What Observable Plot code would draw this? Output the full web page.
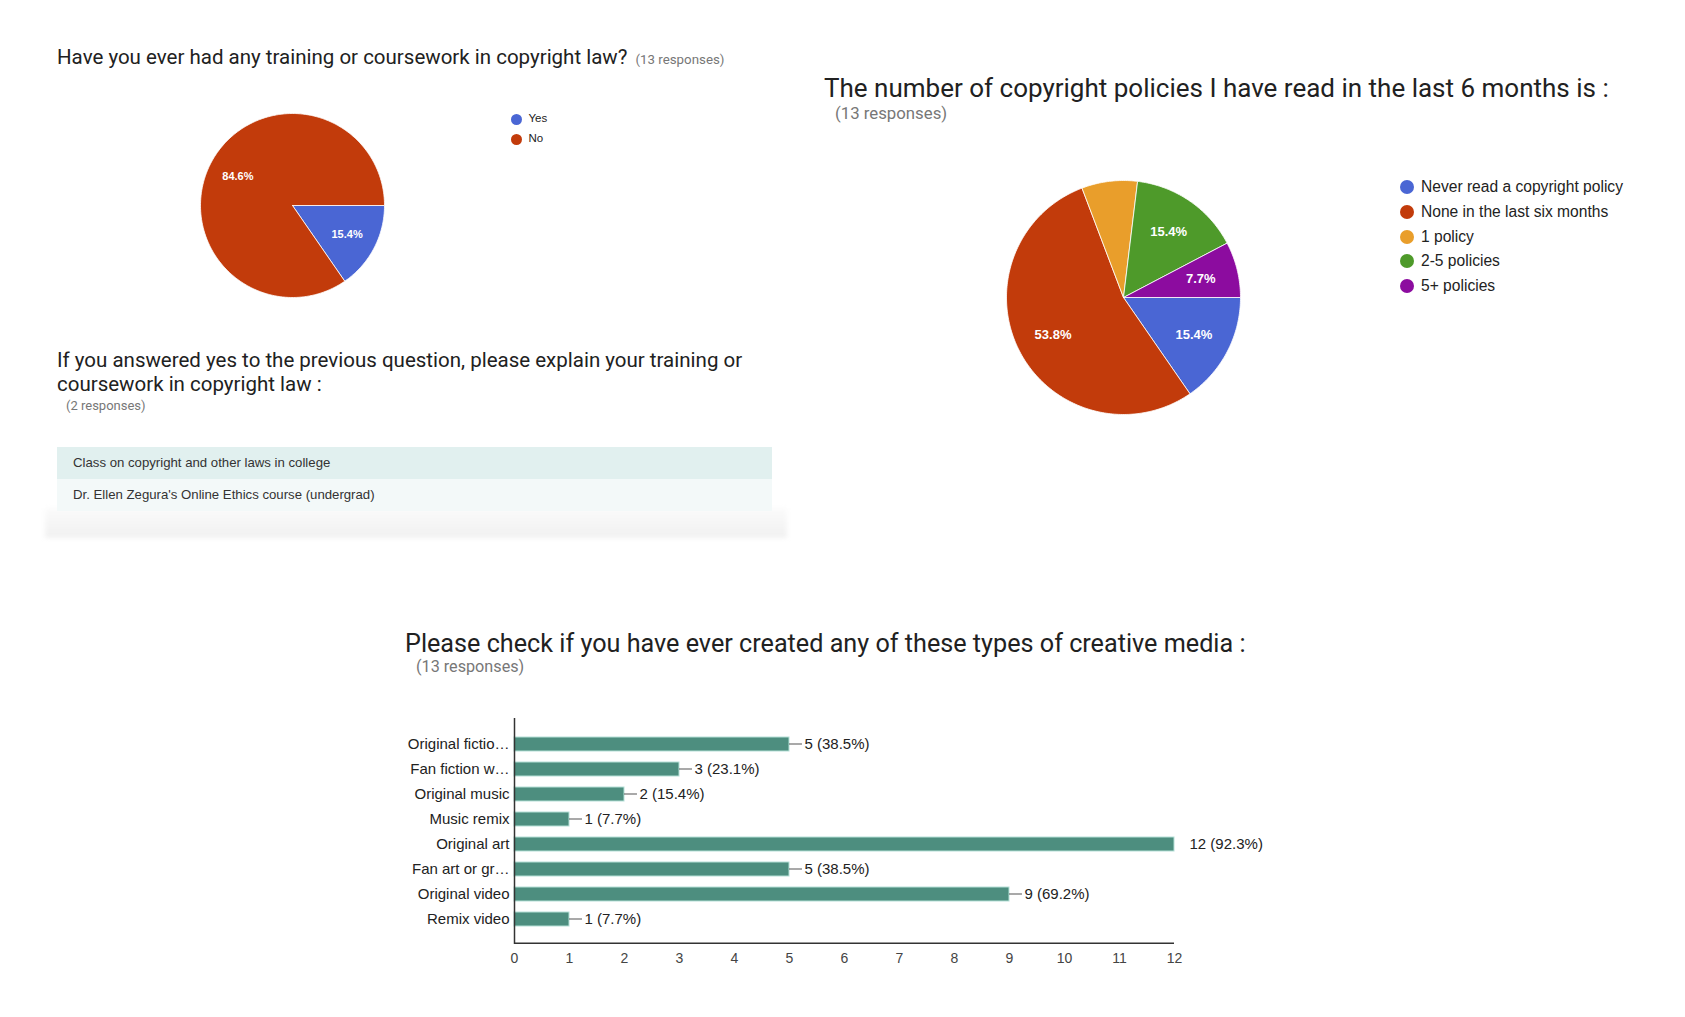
<!DOCTYPE html>
<html><head><meta charset="utf-8">
<script src="https://cdn.jsdelivr.net/npm/d3@7"></script>
<script src="https://cdn.jsdelivr.net/npm/@observablehq/plot@0.6"></script>
<style>
html,body{margin:0;padding:0;background:#fff;}
body{width:1685px;height:1017px;position:relative;overflow:hidden;}
.abs{position:absolute;white-space:nowrap;line-height:1;}
.title{font-family:Roboto,"Liberation Sans",sans-serif;color:#212121;}
.resp{font-family:Roboto,"Liberation Sans",sans-serif;color:#777;}
.leg{font-family:"Liberation Sans",Arial,sans-serif;color:#222;}
.dot{position:absolute;border-radius:50%;}
.row{position:absolute;font-family:"Liberation Sans",Arial,sans-serif;font-size:13.2px;color:#333;box-sizing:border-box;padding-left:16px;}
</style></head><body>
<script>
// ---------- DATA ----------
const q1Title = "Have you ever had any training or coursework in copyright law?";
const q1Responses = "(13 responses)";
const q1Labels = ["Yes", "No"];
const q1Values = [2, 11];
const q1Percents = ["15.4%", "84.6%"];
const q1Colors = ["#4a66d4", "#c23b0b"];

const q2TitleLines = ["If you answered yes to the previous question, please explain your training or", "coursework in copyright law :"];
const q2Responses = "(2 responses)";
const q2Answers = ["Class on copyright and other laws in college", "Dr. Ellen Zegura's Online Ethics course (undergrad)"];

const q3Title = "The number of copyright policies I have read in the last 6 months is :";
const q3Responses = "(13 responses)";
const q3Labels = ["Never read a copyright policy", "None in the last six months", "1 policy", "2-5 policies", "5+ policies"];
const q3Values = [2, 7, 1, 2, 1];
const q3Percents = ["15.4%", "53.8%", "", "15.4%", "7.7%"];
const q3Colors = ["#4a66d4", "#c23b0b", "#e99e2b", "#4e9a2a", "#8c0c9f"];

const q4Title = "Please check if you have ever created any of these types of creative media :";
const q4Responses = "(13 responses)";
const q4Categories = ["Original fictio\u2026", "Fan fiction w\u2026", "Original music", "Music remix", "Original art", "Fan art or gr\u2026", "Original video", "Remix video"];
const q4Counts = [5, 3, 2, 1, 12, 5, 9, 1];
const q4Percents = ["38.5%", "23.1%", "15.4%", "7.7%", "92.3%", "38.5%", "69.2%", "7.7%"];
const q4Ticks = [0, 1, 2, 3, 4, 5, 6, 7, 8, 9, 10, 11, 12];

// ---------- HELPERS ----------
function el(tag, cls, style, html) {
  const e = document.createElement(tag);
  if (cls) e.className = cls;
  Object.assign(e.style, style || {});
  if (html != null) e.innerHTML = html;
  document.body.appendChild(e);
  return e;
}
function textAt(cls, text, x, baseline, size, extra) {
  return el("div", "abs " + cls, Object.assign({left: x + "px", top: (baseline - 0.842 * size) + "px", fontSize: size + "px"}, extra || {}), text);
}

function pieChart(values, colors, labels, r, cx, cy, fontSize, labelR) {
  const arcs = d3.pie().sort(null).startAngle(Math.PI / 2).endAngle(Math.PI / 2 + 2 * Math.PI)(values);
  const pts = [];
  arcs.forEach((a, i) => {
    const n = Math.max(2, Math.ceil((a.endAngle - a.startAngle) / (Math.PI / 180)));
    pts.push({k: i, x: 0, y: 0, c: colors[i]});
    for (let j = 0; j <= n; j++) {
      const t = a.startAngle + (a.endAngle - a.startAngle) * j / n;
      pts.push({k: i, x: Math.sin(t), y: Math.cos(t), c: colors[i]});
    }
    pts.push({k: i, x: 0, y: 0, c: colors[i]});
  });
  const lab = arcs.map((a, i) => {
    const m = (a.startAngle + a.endAngle) / 2;
    return {x: labelR * Math.sin(m), y: labelR * Math.cos(m), t: labels[i]};
  }).filter(d => d.t);
  const pad = 6, size = 2 * r + 2 * pad;
  const p = Plot.plot({
    width: size, height: size, margin: 0,
    x: {domain: [-1, 1], range: [pad, pad + 2 * r], axis: null},
    y: {domain: [-1, 1], range: [pad + 2 * r, pad], axis: null},
    color: {type: "identity"},
    marks: [
      Plot.line(pts, {x: "x", y: "y", z: "k", fill: "c", stroke: "#ffffff", strokeWidth: 1, strokeOpacity: 0.8}),
      Plot.text(lab, {x: "x", y: "y", text: "t", fill: "#ffffff", fontSize, fontWeight: "bold", fontFamily: "Liberation Sans, Arial, sans-serif"})
    ]
  });
  p.style.position = "absolute";
  p.style.left = (cx - r - pad) + "px";
  p.style.top = (cy - r - pad) + "px";
  document.body.appendChild(p);
}

function legend(labels, colors, x, y0, step, dotR, size) {
  labels.forEach((l, i) => {
    const cy = y0 + i * step;
    el("div", "dot", {left: (x - dotR) + "px", top: (cy - dotR) + "px", width: 2 * dotR + "px", height: 2 * dotR + "px", background: colors[i]});
    el("div", "abs leg", {left: (x + dotR + 7) + "px", top: (cy - 0.5 * size) + "px", fontSize: size + "px"}, l);
  });
}

// ---------- Q1 ----------
textAt("title", q1Title + ' <span class="resp" style="font-size:13.3px;margin-left:3px">' + q1Responses + '</span>', 57, 64.5, 20.5);
pieChart(q1Values, q1Colors, q1Percents, 92, 292, 205, 11, 0.67);
legend(q1Labels, q1Colors, 516, 119, 20, 5.5, 11.5);

// ---------- Q2 ----------
textAt("title", q2TitleLines[0], 57, 367.5, 20.5);
textAt("title", q2TitleLines[1], 57, 391.5, 20.5);
textAt("resp", q2Responses, 66, 409.5, 13);
el("div", "", {position: "absolute", left: "45px", top: "508px", width: "742px", height: "30px", background: "linear-gradient(to bottom,#fbfbfb,#f1f1f1)", filter: "blur(2px)"});
const rowBg = ["#e1f0ef", "#f3f9f9"];
q2Answers.forEach((a, i) => {
  el("div", "row", {left: "57px", top: (447 + i * 32) + "px", width: "715px", height: "32px", lineHeight: "32px", background: rowBg[i]}, a.replace(/'/g, "&#39;"));
});

// ---------- Q3 ----------
textAt("title", q3Title, 824, 97, 26);
textAt("resp", q3Responses, 835, 119.5, 16.8);
pieChart(q3Values, q3Colors, q3Percents, 117, 1123, 297, 13, 0.68);
legend(q3Labels, q3Colors, 1407, 187, 24.75, 7, 15.6);

// ---------- Q4 ----------
textAt("title", q4Title, 405, 652.5, 25.2);
textAt("resp", q4Responses, 416, 673, 16.2);

const barData = q4Categories.map((c, i) => ({c, v: q4Counts[i], p: q4Percents[i]}));
const maxV = d3.max(q4Counts);
const stem = 0.236;
const bar = Plot.plot({
  width: 900, height: 274,
  marginLeft: 134, marginRight: 106, marginTop: 18, marginBottom: 30,
  style: {fontFamily: "Liberation Sans, Arial, sans-serif", fontSize: "15px", color: "#222", background: "transparent"},
  x: {domain: [0, 12], axis: null},
  y: {domain: q4Categories, paddingInner: 0.44, paddingOuter: 0.72, axis: null},
  marks: [
    Plot.barX(barData, {x: "v", y: "c", fill: "#4d8e7f", stroke: "#b5e0d7", strokeWidth: 1}),
    Plot.barX(barData.filter(d => d.v < maxV), {x1: "v", x2: d => d.v + stem, y: "c", fill: "#555", insetTop: 6.5, insetBottom: 6.5}),
    Plot.text(barData, {x: "v", y: "c", text: d => `${d.v} (${d.p})`, textAnchor: "start", dx: 15, fill: "#222", fontSize: 15}),
    Plot.ruleX([0], {stroke: "#333", strokeWidth: 1.5}),
    Plot.rect([0], {x1: 0, x2: 12, fill: "#333", insetTop: 224.5}),
    Plot.axisX({ticks: q4Ticks, tickSize: 0, tickPadding: 9, fontSize: 14, fill: "#444", label: null, tickFormat: d => String(d)}),
    Plot.axisY({tickSize: 0, tickPadding: 5, fontSize: 15, fill: "#222", label: null})
  ]
});
bar.style.position = "absolute";
bar.style.left = "380px";
bar.style.top = "700px";
document.body.appendChild(bar);
</script>
</body></html>
